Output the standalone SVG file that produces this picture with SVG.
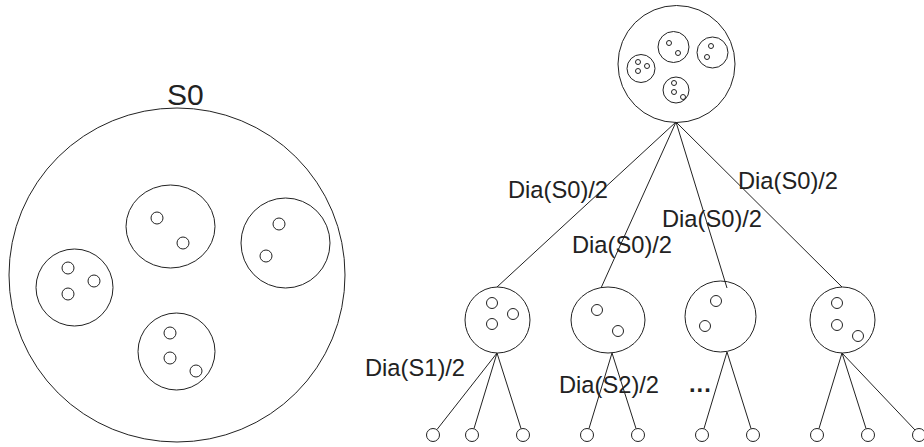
<svg xmlns="http://www.w3.org/2000/svg" width="924" height="447" viewBox="0 0 924 447">
<style>
.c{fill:none;stroke:#222;stroke-width:1}
.l{stroke:#222;stroke-width:1;fill:none}
.t{font-family:"Liberation Sans",Arial,sans-serif;fill:#222;font-size:23.7px}
.big{font-family:"Liberation Sans",Arial,sans-serif;fill:#222;font-size:30px}
</style>
<rect width="924" height="447" fill="#fff"/>
<g id="set-S0">
<ellipse class="c" cx="177" cy="275" rx="168" ry="167"/>
<text class="big" x="167" y="105">S0</text>
<ellipse class="c" cx="170.5" cy="226.5" rx="44.5" ry="41.5"/>
<circle class="c" cx="157" cy="218" r="6"/>
<circle class="c" cx="183" cy="243" r="6"/>
<ellipse class="c" cx="285.5" cy="243" rx="44.5" ry="45"/>
<circle class="c" cx="279" cy="224" r="6"/>
<circle class="c" cx="266" cy="256" r="6"/>
<ellipse class="c" cx="74.5" cy="287.5" rx="38.5" ry="38.5"/>
<circle class="c" cx="68" cy="268" r="6"/>
<circle class="c" cx="94" cy="281" r="6"/>
<circle class="c" cx="68" cy="294" r="6"/>
<ellipse class="c" cx="176.5" cy="351.5" rx="38.5" ry="38.5"/>
<circle class="c" cx="170" cy="333" r="6"/>
<circle class="c" cx="170" cy="358" r="6"/>
<circle class="c" cx="196" cy="371" r="6"/>
</g>
<g id="root">
<circle class="c" cx="676.5" cy="64" r="58.5"/>
<circle class="c" cx="673.5" cy="47" r="15.5"/>
<circle class="c" cx="669" cy="43" r="2.5"/>
<circle class="c" cx="678" cy="53" r="2.5"/>
<circle class="c" cx="712.5" cy="52.5" r="15.5"/>
<circle class="c" cx="711" cy="46" r="2.5"/>
<circle class="c" cx="707" cy="57" r="2.5"/>
<circle class="c" cx="641" cy="68.5" r="14"/>
<circle class="c" cx="638" cy="62" r="2.5"/>
<circle class="c" cx="647" cy="66" r="2.5"/>
<circle class="c" cx="638" cy="71" r="2.5"/>
<circle class="c" cx="676" cy="90" r="13"/>
<circle class="c" cx="674" cy="83" r="2.5"/>
<circle class="c" cx="674" cy="92" r="2.5"/>
<circle class="c" cx="683" cy="97" r="2.5"/>
</g>
<g id="child1">
<ellipse class="c" cx="497.5" cy="320" rx="32.5" ry="33"/>
<circle class="c" cx="492" cy="303" r="5.5"/>
<circle class="c" cx="513" cy="314" r="5.5"/>
<circle class="c" cx="492" cy="324" r="5.5"/>
</g>
<g id="child2">
<ellipse class="c" cx="608" cy="320" rx="37" ry="33"/>
<circle class="c" cx="597" cy="310" r="5.5"/>
<circle class="c" cx="618" cy="331" r="5.5"/>
</g>
<g id="child3">
<ellipse class="c" cx="720.5" cy="316.5" rx="35.5" ry="35.5"/>
<circle class="c" cx="716" cy="301" r="5.5"/>
<circle class="c" cx="705" cy="326" r="5.5"/>
</g>
<g id="child4">
<ellipse class="c" cx="842.5" cy="320" rx="32.5" ry="33"/>
<circle class="c" cx="837" cy="303" r="5.5"/>
<circle class="c" cx="837" cy="325" r="5.5"/>
<circle class="c" cx="858" cy="336" r="5.5"/>
</g>
<g id="leaves">
<circle class="c" cx="433" cy="435" r="6.5"/>
<circle class="c" cx="472" cy="435" r="6.5"/>
<circle class="c" cx="523" cy="435" r="6.5"/>
<circle class="c" cx="587" cy="435" r="6.5"/>
<circle class="c" cx="638" cy="435" r="6.5"/>
<circle class="c" cx="702" cy="435" r="6.5"/>
<circle class="c" cx="753" cy="435" r="6.5"/>
<circle class="c" cx="817" cy="435" r="6.5"/>
<circle class="c" cx="868" cy="435" r="6.5"/>
<circle class="c" cx="919" cy="435" r="6.5"/>
</g>
<g id="connectors">
<line class="l" x1="676" y1="122" x2="497" y2="287"/>
<line class="l" x1="676" y1="122" x2="601" y2="288"/>
<line class="l" x1="676" y1="122" x2="727" y2="288"/>
<line class="l" x1="676" y1="122" x2="842" y2="287"/>
<line class="l" x1="497" y1="353" x2="437" y2="429.5"/>
<line class="l" x1="497" y1="353" x2="474" y2="428.5"/>
<line class="l" x1="497" y1="353" x2="521" y2="428.5"/>
<line class="l" x1="612" y1="353" x2="589" y2="428.5"/>
<line class="l" x1="612" y1="353" x2="636" y2="428.5"/>
<line class="l" x1="727" y1="352" x2="704" y2="428.5"/>
<line class="l" x1="727" y1="352" x2="751" y2="428.5"/>
<line class="l" x1="842" y1="353" x2="819" y2="428.5"/>
<line class="l" x1="842" y1="353" x2="866" y2="428.5"/>
<line class="l" x1="842" y1="353" x2="915" y2="430"/>
</g>
<g id="labels">
<text class="t" x="508" y="198">Dia(S0)/2</text>
<text class="t" x="572" y="253">Dia(S0)/2</text>
<text class="t" x="662" y="227">Dia(S0)/2</text>
<text class="t" x="738" y="189">Dia(S0)/2</text>
<text class="t" x="365" y="376">Dia(S1)/2</text>
<text class="t" x="559" y="393">Dia(S2)/2</text>
<text class="t" x="689" y="392" style="font-weight:bold;letter-spacing:1px">...</text>
</g>
</svg>
